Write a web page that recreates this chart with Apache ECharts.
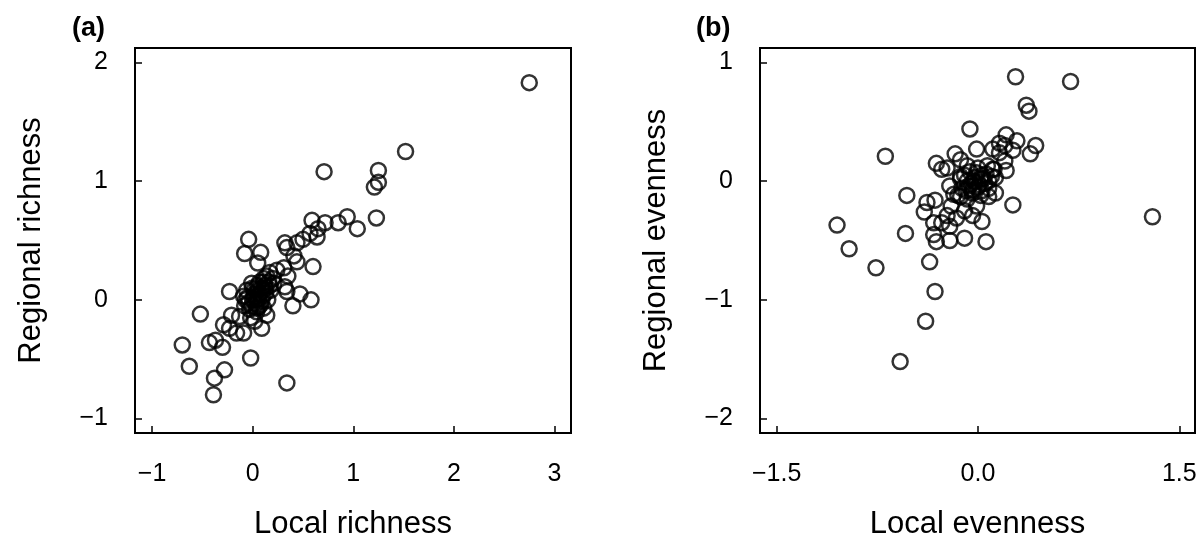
<!DOCTYPE html>
<html>
<head>
<meta charset="utf-8">
<script src="https://cdn.jsdelivr.net/npm/echarts@6/dist/echarts.min.js"></script>
<style>
html,body{margin:0;padding:0;background:#fff;}
#chart{width:1202px;height:540px;}
</style>
</head>
<body>
<div id="chart"></div>
<script>
// Panel (a): richness
const localRichness = [
  1.52, 0.71, 1.25, 1.25, 1.21, 1.23, 0.94, 1.04, 0.85, 0.72, 0.59, 0.65, 0.64, 0.57, 0.50, 0.44,
  0.32, 0.34, 0.41, 0.44, 0.60, -0.04, -0.08, 0.08, 0.05, -0.23, -0.52, 0.58, 0.40, 0.47,
  -0.70, -0.63, -0.43, -0.37, -0.30, -0.38, -0.28, -0.39, -0.02, 0.34, 0.09, -0.29, -0.23,
  -0.16, -0.09, -0.21, -0.13, 0.02, 0.14, 0.04, -0.09, 0.17, 0.24, 0.31, 0.35, 0.32, 0.34,
  0.21, 0.11, -0.01, 2.75,
  -0.08, -0.05, -0.03, 0.00, 0.02, 0.03, 0.05, 0.06, 0.08, 0.09, 0.10, 0.12, 0.13, 0.15,
  0.16, 0.18, 0.20, 0.00, -0.02, 0.04, 0.11, 0.07, -0.06, 0.14,
  0.01, 0.04, 0.07, 0.10, -0.04, 0.06, 0.13, 0.02, -0.01, 0.09, 0.17, 0.05, 0.11, -0.07
];
const regionalRichness = [
  1.25, 1.08, 1.09, 0.99, 0.95, 0.69, 0.70, 0.60, 0.65, 0.65, 0.67, 0.60, 0.53, 0.56, 0.51, 0.48,
  0.48, 0.44, 0.37, 0.32, 0.28, 0.51, 0.39, 0.40, 0.31, 0.07, -0.12, 0.00, -0.05, 0.05,
  -0.38, -0.56, -0.36, -0.34, -0.40, -0.66, -0.59, -0.80, -0.49, -0.70, -0.24, -0.21, -0.24,
  -0.28, -0.28, -0.13, -0.14, -0.18, -0.13, -0.07, 0.03, 0.23, 0.25, 0.27, 0.20, 0.11, 0.07,
  0.14, 0.18, 0.14, 1.83,
  -0.05, 0.02, -0.08, 0.00, 0.05, -0.03, 0.08, 0.01, -0.04, 0.10, 0.03, 0.12, 0.06, 0.00,
  0.15, 0.08, 0.18, 0.10, -0.15, -0.10, -0.07, 0.15, 0.08, 0.20,
  0.03, 0.00, 0.05, 0.08, -0.02, -0.06, 0.10, 0.09, -0.05, -0.01, 0.12, 0.12, 0.15, 0.00
];
const richnessXTicks = [-1, 0, 1, 2, 3];
const richnessYTicks = [-1, 0, 1, 2];

// Panel (b): evenness
const localEvenness = [
  0.28, 0.69, 0.36, 0.38, -0.06, -0.69, 0.21, 0.29, 0.43, 0.39, 0.16, 0.11, -0.01, -0.17,
  -0.31, -0.23, 0.21, 0.13, -0.53, -0.38, -0.32, -0.40, 0.26, 0.13, 0.08, -1.05, -0.96,
  -0.76, -0.54, -0.36, -0.32, -0.39, -0.58, 0.06, -0.10, -0.21, -0.31, -0.33, 0.03, -0.04,
  -0.10, -0.20, -0.23, -0.21, -0.27, -0.16, -0.33, -0.21, -0.13, -0.08, 0.07, 0.20, 0.16,
  0.26, 0.20, -0.13, -0.27, 0.02, -0.04, -0.08, -0.13, -0.01, -0.18, 0.08, 0.11,
  1.30,
  -0.05, -0.02, 0.00, -0.08, 0.03, -0.04, 0.05, -0.10, 0.02, -0.06, 0.08, -0.12,
  -0.03, 0.01, -0.07, 0.04, -0.01, -0.09, 0.06, -0.04, 0.10, -0.13, 0.00, 0.03, -0.15, 0.12
];
const regionalEvenness = [
  0.88, 0.84, 0.64, 0.59, 0.44, 0.21, 0.39, 0.34, 0.30, 0.23, 0.32, 0.27, 0.27, 0.23,
  0.15, 0.11, 0.09, 0.03, -0.12, -0.18, -0.16, -0.26, -0.20, -0.10, -0.13, -0.37, -0.57,
  -0.73, -0.44, -0.68, -0.93, -1.18, -1.52, -0.51, -0.48, -0.50, -0.51, -0.45, -0.34, -0.29,
  -0.25, -0.21, -0.29, -0.38, -0.35, -0.31, -0.35, -0.04, 0.04, 0.13, 0.13, 0.30, 0.24,
  0.26, 0.17, 0.18, 0.10, 0.02, -0.08, -0.15, -0.13, -0.21, -0.11, -0.06, 0.10,
  -0.30,
  -0.02, 0.03, -0.05, 0.00, 0.05, -0.10, -0.02, 0.05, -0.12, 0.08, 0.00, -0.06,
  0.00, -0.03, -0.04, 0.02, 0.07, -0.08, 0.06, -0.07, 0.04, 0.02, 0.11, -0.08, -0.12, 0.10
];
const evennessXTicks = [-1.5, 0, 1.5];
const evennessYTicks = [-2, -1, 0, 1];

const FONT = '"Liberation Sans", Arial, Helvetica, sans-serif';
const minus = s => String(s).replace('-', '\u2212');

function pairs(xs, ys) { return xs.map((x, i) => [x, ys[i]]); }

function xAxis(gridIndex, min, max, ticks, name, fmt) {
  return {
    type: 'value', gridIndex, min, max, name,
    nameLocation: 'middle', nameGap: 76,
    nameTextStyle: { fontFamily: FONT, fontSize: 31, color: '#000' },
    axisLine: { show: true, onZero: false, lineStyle: { color: '#000', width: 2 } },
    splitLine: { show: false },
    axisTick: { show: true, inside: true, length: 7, customValues: ticks, lineStyle: { color: '#000', width: 1.5 } },
    axisLabel: { show: true, customValues: ticks, margin: 29, fontFamily: FONT, fontSize: 25, color: '#000', formatter: fmt }
  };
}
function yAxis(gridIndex, min, max, ticks, name, fmt) {
  return {
    type: 'value', gridIndex, min, max, name,
    nameLocation: 'middle', nameGap: 88,
    nameTextStyle: { fontFamily: FONT, fontSize: 31, color: '#000' },
    axisLine: { show: true, onZero: false, lineStyle: { color: '#000', width: 2 } },
    splitLine: { show: false },
    axisTick: { show: true, inside: true, length: 7, customValues: ticks, lineStyle: { color: '#000', width: 1.5 } },
    axisLabel: { show: true, customValues: ticks, margin: 27, fontFamily: FONT, fontSize: 25, color: '#000', formatter: fmt }
  };
}

const symbolStyle = { color: 'rgba(0,0,0,0)', borderColor: '#000', borderWidth: 2.5 };

const chart = echarts.init(document.getElementById('chart'), null, { renderer: 'canvas' });
chart.setOption({
  animation: false,
  backgroundColor: '#fff',
  grid: [
    { left: 135, top: 48, width: 436, height: 385, outerBoundsMode: 'none', containLabel: false, show: true, borderColor: '#000', borderWidth: 2, backgroundColor: 'transparent' },
    { left: 760, top: 48, width: 435, height: 385, outerBoundsMode: 'none', containLabel: false, show: true, borderColor: '#000', borderWidth: 2, backgroundColor: 'transparent' }
  ],
  xAxis: [
    xAxis(0, -1.17, 3.165, richnessXTicks, 'Local richness', v => minus(v)),
    xAxis(1, -1.624, 1.617, evennessXTicks, 'Local evenness', v => minus(Number(v).toFixed(1)))
  ],
  yAxis: [
    yAxis(0, -1.122, 2.122, richnessYTicks, 'Regional richness', v => minus(v)),
    yAxis(1, -2.122, 1.122, evennessYTicks, 'Regional evenness', v => minus(v))
  ],
  graphic: [
    { type: 'text', left: 72, top: 15, style: { text: '(a)', fontFamily: FONT, fontSize: 27, fontWeight: 'bold', fill: '#000' } },
    { type: 'text', left: 696, top: 15, style: { text: '(b)', fontFamily: FONT, fontSize: 27, fontWeight: 'bold', fill: '#000' } }
  ],
  series: [
    { type: 'scatter', xAxisIndex: 0, yAxisIndex: 0, data: pairs(localRichness, regionalRichness), symbol: 'circle', symbolSize: 15, itemStyle: symbolStyle, silent: true },
    { type: 'scatter', xAxisIndex: 1, yAxisIndex: 1, data: pairs(localEvenness, regionalEvenness), symbol: 'circle', symbolSize: 15, itemStyle: symbolStyle, silent: true }
  ]
});
</script>
</body>
</html>
